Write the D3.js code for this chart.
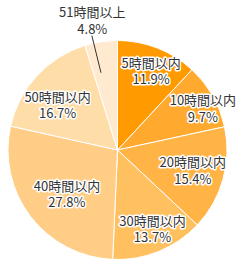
<!DOCTYPE html>
<html><head><meta charset="utf-8">
<script src="https://cdn.jsdelivr.net/npm/d3@7"></script>
<style>
html,body{margin:0;padding:0;background:#fff;}
svg{display:block;}
text{font-family:"Noto Sans CJK JP","Noto Sans",sans-serif;font-size:13px;}
</style></head>
<body>
<script>
const categories = ["5時間以内","10時間以内","20時間以内","30時間以内","40時間以内","50時間以内","51時間以上"];
const values = [11.9, 9.7, 15.4, 13.7, 27.8, 16.7, 4.8];
const valueLabels = ["11.9%","9.7%","15.4%","13.7%","27.8%","16.7%","4.8%"];
const colors = ["#FF9A00","#FFAA2E","#FFB445","#FFC060","#FFCD85","#FFDDA8","#FFE9CF"];
// label placement: [radius, angle in degrees] (polar around pie centre)
const labelPolar = [[86,23],[95,64],[78,105],[86,156],[67,229],[75,307],[132,349]];

const W = 247, H = 265, cx = 117.5, cy = 150, R = 109.5;
const svg = d3.select("body").append("svg").attr("width", W).attr("height", H);
const g = svg.append("g").attr("transform", `translate(${cx},${cy})`);

const pie = d3.pie().sort(null).value(d => d);
const arcs = pie(values);
const arc = d3.arc().innerRadius(0).outerRadius(R);

g.selectAll("path.slice").data(arcs).enter().append("path")
  .attr("class","slice")
  .attr("d", arc)
  .attr("fill", (d,i) => colors[i])
  .attr("stroke", "#fff").attr("stroke-width", 1);

// leader line for the last (small) slice
const last = arcs[arcs.length-1];
const mid = (last.startAngle + last.endAngle)/2 - 0.06;
const p1 = [Math.sin(mid)*79, -Math.cos(mid)*79];
const p2 = [Math.sin(mid-0.01)*119, -Math.cos(mid-0.01)*119];
g.append("line").attr("x1",p1[0]).attr("y1",p1[1]).attr("x2",p2[0]).attr("y2",p2[1])
  .attr("stroke","#333").attr("stroke-width",1);

const lab = g.selectAll("text.lab").data(arcs).enter().append("text").attr("class","lab")
  .attr("text-anchor","middle")
  .attr("fill","#333")
  .attr("stroke","#fff").attr("stroke-width",3).attr("stroke-linejoin","round")
  .style("paint-order","stroke")
  .attr("transform", (d,i) => {
    const [r,a] = labelPolar[i];
    const t = a*Math.PI/180;
    return `translate(${Math.sin(t)*r},${-Math.cos(t)*r})`;
  });
lab.append("tspan").attr("x",0).attr("y",-3).text((d,i) => categories[i]);
lab.append("tspan").attr("x",0).attr("y",13.5).text((d,i) => valueLabels[i]);
</script>
</body></html>
